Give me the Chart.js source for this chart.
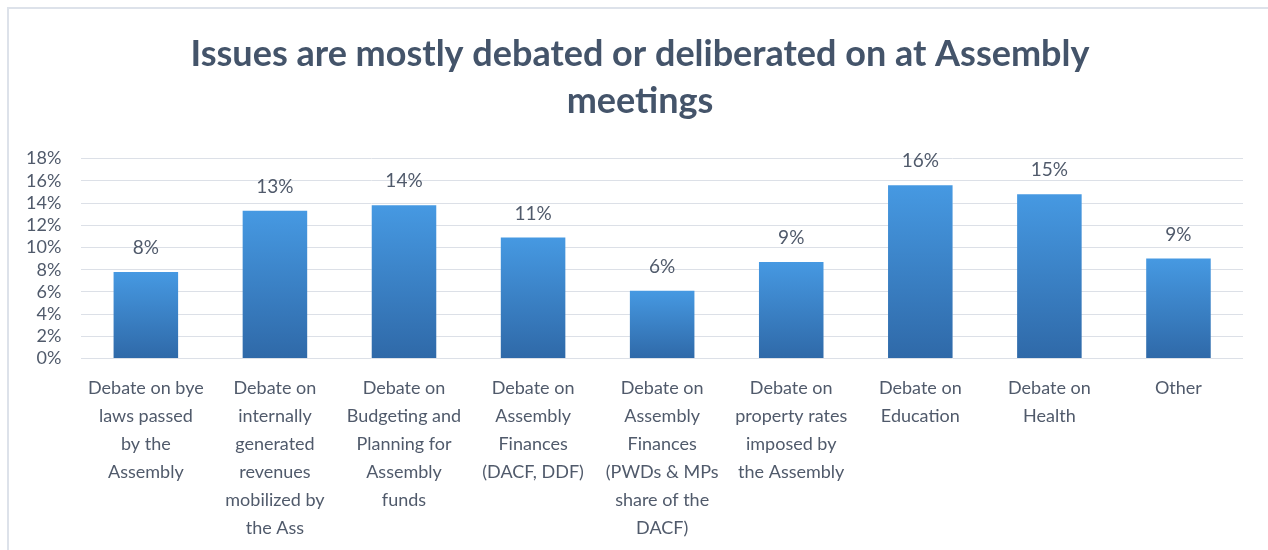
<!DOCTYPE html>
<html>
<head>
<meta charset="utf-8">
<title>Issues debated at Assembly meetings</title>
<script src="https://cdn.jsdelivr.net/npm/chart.js@4/dist/chart.umd.min.js"></script>
<style>
    html, body { margin: 0; padding: 0; background: #fff; }
    #wrap { position: relative; width: 1268px; height: 550px; overflow: hidden; }
    #frame {
        position: absolute; left: 7px; top: 7px; width: 1300px; height: 600px;
        border-left: 2px solid #dde2ea; border-top: 2px solid #dde2ea;
    }
    canvas { position: absolute; left: 0; top: 0; }
</style>
</head>
<body>
<div id="wrap">
    <div id="frame"></div>
    <canvas id="issuesChart" width="1268" height="550"></canvas>
</div>
<script>
const categories = [
    ['Debate on bye', 'laws passed', 'by the', 'Assembly'],
    ['Debate on', 'internally', 'generated', 'revenues', 'mobilized by', 'the Ass'],
    ['Debate on', 'Budgeting and', 'Planning for', 'Assembly', 'funds'],
    ['Debate on', 'Assembly', 'Finances', '(DACF, DDF)'],
    ['Debate on', 'Assembly', 'Finances', '(PWDs & MPs', 'share of the', 'DACF)'],
    ['Debate on', 'property rates', 'imposed by', 'the Assembly'],
    ['Debate on', 'Education'],
    ['Debate on', 'Health'],
    ['Other']
];
const shares = [7.8, 13.3, 13.8, 10.9, 6.1, 8.7, 15.6, 14.8, 9.0];
const titleLines = ['Issues are mostly debated or deliberated on at Assembly', 'meetings'];

const textColor = '#505a6b';
const fontFamily = 'Lato, "Open Sans", sans-serif';

// each bar gets its own top-to-bottom gradient
function barFill(ctx) {
    const chart = ctx.chart;
    const y = chart.scales.y;
    const fallback = '#3f86d0';
    if (!chart.chartArea || !y || !ctx.parsed) return fallback;
    const top = y.getPixelForValue(ctx.parsed.y);
    const bottom = y.getPixelForValue(0);
    if (!isFinite(top) || !isFinite(bottom)) return fallback;
    const g = chart.ctx.createLinearGradient(0, top, 0, bottom);
    g.addColorStop(0, '#4699e2');
    g.addColorStop(1, '#2f69a8');
    return g;
}

const valueLabels = {
    id: 'valueLabels',
    afterDatasetsDraw(chart) {
        const ctx = chart.ctx;
        const meta = chart.getDatasetMeta(0);
        ctx.save();
        ctx.font = '19px ' + fontFamily;
        ctx.fillStyle = textColor;
        ctx.textAlign = 'center';
        ctx.textBaseline = 'middle';
        meta.data.forEach((bar, i) => {
            ctx.fillText(Math.round(shares[i]) + '%', bar.x, bar.y - 24);
        });
        ctx.restore();
    }
};

// title sits centred on the page rather than on the padded layout box
const centreTitle = {
    id: 'centreTitle',
    afterLayout(chart) {
        const t = chart.titleBlock;
        if (!t) return;
        const shift = chart.width / 2 + 6 - (t.left + t.right) / 2;
        t.left += shift;
        t.right += shift;
    }
};

new Chart(document.getElementById('issuesChart'), {
    type: 'bar',
    data: {
        labels: categories,
        datasets: [{
            data: shares,
            backgroundColor: barFill,
            barPercentage: 0.5,
            categoryPercentage: 1
        }]
    },
    options: {
        responsive: false,
        animation: false,
        layout: { padding: { left: 6, right: 25, top: 0, bottom: 0 } },
        plugins: {
            legend: { display: false },
            tooltip: { enabled: false },
            title: {
                display: true,
                text: titleLines,
                color: '#44546a',
                font: { family: fontFamily, size: 36, weight: 'bold', lineHeight: 1.3 },
                padding: { top: 31, bottom: 34 }
            }
        },
        scales: {
            x: {
                grid: { display: false },
                border: { display: false },
                ticks: {
                    color: textColor,
                    font: { family: fontFamily, size: 18, lineHeight: 1.55 },
                    maxRotation: 0,
                    autoSkip: false,
                    padding: 8
                }
            },
            y: {
                min: 0,
                max: 18,
                grid: { color: '#dce0e7', drawTicks: false },
                border: { display: false },
                ticks: {
                    stepSize: 2,
                    autoSkip: false,
                    color: textColor,
                    font: { family: fontFamily, size: 18 },
                    padding: 20,
                    callback: v => v + '%'
                }
            }
        }
    },
    plugins: [valueLabels, centreTitle]
});
</script>
</body>
</html>
